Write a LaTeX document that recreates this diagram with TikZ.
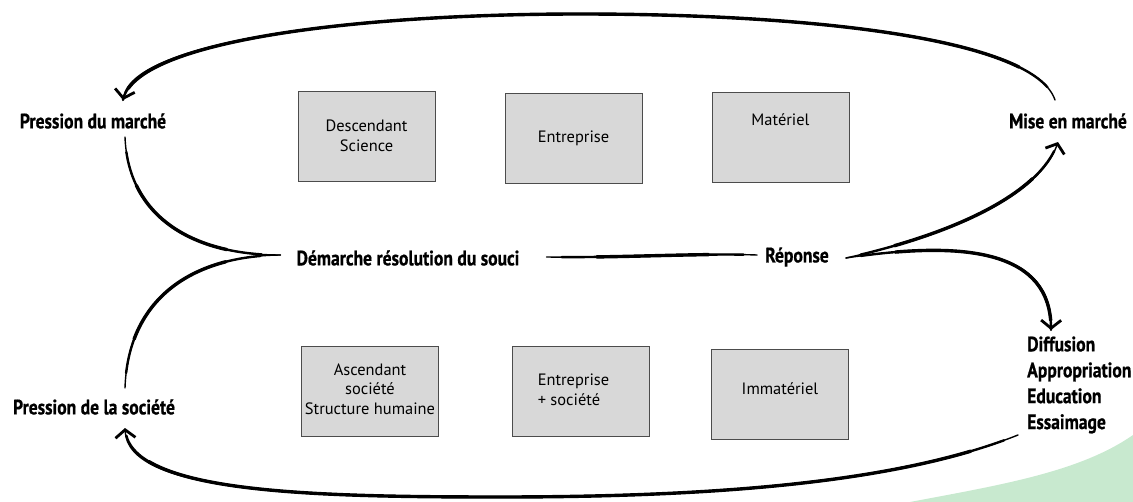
\documentclass[tikz,border=0pt]{standalone}
\usepackage{fontspec}
\setmainfont{PT Sans}
\newfontfamily\labfont[FakeStretch=0.84, BoldFeatures={FakeBold=0.7}]{PT Sans}
\usetikzlibrary{arrows.meta,calc}
\definecolor{boxgray}{HTML}{D8D8D8}
\definecolor{leaf}{HTML}{C8E9CF}
% #1 extra options (tip), #2 approximate path length in bp, #3 path
\newcommand\brushstroke[3]{%
 \pgfmathsetmacro\brA{#2-30}\pgfmathsetmacro\phA{#2+2955}%
 \pgfmathsetmacro\brB{#2-100}\pgfmathsetmacro\phB{#2+2850}%
 \draw[brushA,#1] #3;
 \draw[brushB,dash pattern=on \brA bp off 3000bp,dash phase=\phA bp] #3;
 \draw[brushC,dash pattern=on \brB bp off 3000bp,dash phase=\phB bp] #3;}
\begin{document}
\begin{tikzpicture}[x=1bp,y=-1bp,
 lab/.style={font=\labfont\bfseries\fontsize{21}{26}\selectfont, inner sep=0pt},
 box/.style={draw=black!70, line width=0.8bp, fill=boxgray, minimum width=137bp, minimum height=90bp, inner sep=0pt, align=center, font=\fontsize{16.5}{20}\selectfont},
 brushA/.style={line width=1.4bp, line cap=round},
 brushB/.style={line width=2.4bp, line cap=round},
 brushC/.style={line width=3.4bp, line cap=round},
 tip/.style={-{Straight Barb[length=8bp,width=20bp,line width=2.8bp]}}
]
\useasboundingbox (0,0) rectangle (1133,502);
% green decoration
\fill[leaf] (910,502) .. controls (1000,485) and (1080,472) .. (1133,435) -- (1133,502) -- cycle;

% boxes
\node[box] (b1) at (366.5,136) {Descendant\\Science};
\node[box] (b2) at (573.5,138) {Entreprise};
\node[box] (b3) at (780.5,137.5) {\raisebox{35bp}{Matériel}};
\node[box] (b4) at (370,391) {\raisebox{18bp}{\begin{tabular}{@{}c@{}}Ascendant\\société\\Structure humaine\end{tabular}}};
\node[box] (b5) at (580.5,391.5) {\hspace*{-14bp}\raisebox{-8bp}{\begin{tabular}{@{}l@{}}Entreprise\\+ société\end{tabular}}};
\node[box] (b6) at (780,394.5) {\raisebox{12bp}{Immatériel}};

% labels
\node[lab] (pm) at (93,121) {Pression du marché};
\node[lab] (mm) at (1068,121) {Mise en marché};
\node[lab] (dem) at (408,258) {Démarche résolution du souci};
\node[lab] (rep) at (797,257) {Réponse};
\node[lab] (ps) at (94,407) {Pression de la société};
\node[lab, anchor=west, align=left] (diff) at (1027,385) {Diffusion\\Appropriation\\Education\\Essaimage};

\coordinate (merge) at ($(dem.west)+(-16,-3)$);
\coordinate (rs) at ($(rep.east)+(17,1)$);

% connectors
\brushstroke{tip}{1010}{($(mm)+(-13,-21)$) .. controls (1035,40) and (820,14) .. (580,14) .. controls (360,14) and (135,40) .. ($(pm)+(30,-21)$)}
\brushstroke{}{215}{($(pm)+(32,16)$) .. controls (128,215) and (190,255) .. (merge)}
\brushstroke{}{225}{($(ps)+(31,-19)$) .. controls (128,300) and (190,256) .. (merge)}
\brushstroke{}{212}{($(dem.east)+(27,-1)$) .. controls (620,258) and (700,253) .. ($(rep.west)+(-8,-2)$)}
\brushstroke{tip}{255}{(rs) .. controls (950,235) and (1040,195) .. ($(mm)+(-10,21)$)}
\brushstroke{tip}{290}{(rs) .. controls (965,240) and (1052,250) .. ($(diff.west)+(24,-55)$)}
\brushstroke{tip}{930}{($(diff.west)+(-9,50)$) .. controls (900,482) and (720,497) .. (500,497) .. controls (300,497) and (128,492) .. ($(ps)+(31,21)$)}
\end{tikzpicture}
\end{document}
